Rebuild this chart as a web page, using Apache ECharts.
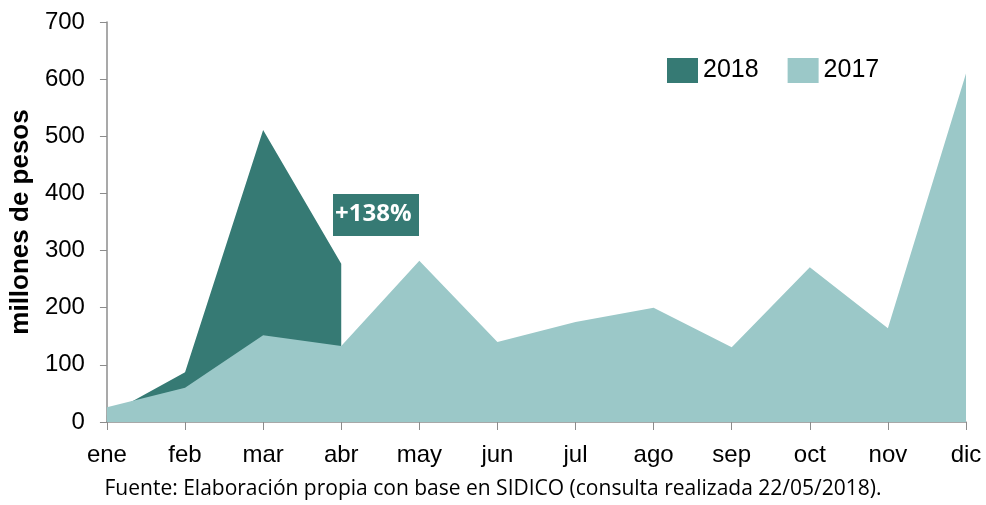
<!DOCTYPE html>
<html>
<head>
<meta charset="utf-8">
<script src="https://cdn.jsdelivr.net/npm/echarts@6/dist/echarts.min.js"></script>
<style>
	html, body {margin: 0; padding: 0; background: #fff;}
	#chart {width: 986px; height: 505px;}
</style>
</head>
<body>
<div id="chart"></div>
<script>
// 数据
var months = ['ene', 'feb', 'mar', 'abr', 'may', 'jun', 'jul', 'ago', 'sep', 'oct', 'nov', 'dic'];
var data2017 = [26, 60, 152, 133, 282, 140, 175, 200, 131, 271, 164, 610];
var data2018 = [12, 87, 511, 277, null, null, null, null, null, null, null, null];
var yTicks = [0, 100, 200, 300, 400, 500, 600, 700];

var darkColor = '#367a74';
var lightColor = '#9bc8c8';

var chart = echarts.init(document.getElementById('chart'));
var option = {
	animation: false,
	grid: {
		left: 106,
		right: 20,
		top: 22,
		bottom: 83
	},
	legend: {
		data: ['2018', '2017'],
		left: 662,
		top: 53,
		itemWidth: 31,
		itemHeight: 25,
		itemGap: 29,
		icon: 'rect',
		textStyle: {fontFamily: 'Liberation Sans', fontSize: 25, color: '#000'}
	},
	xAxis: {
		type: 'category',
		data: months,
		boundaryGap: false,
		axisLine: {lineStyle: {color: '#8c8c8c', width: 1.5}},
		axisTick: {show: true, length: 8, lineStyle: {color: '#8c8c8c'}},
		axisLabel: {fontFamily: 'Liberation Sans', fontSize: 24, color: '#000', margin: 21},
		splitLine: {show: false}
	},
	yAxis: {
		type: 'value',
		min: yTicks[0],
		max: yTicks[yTicks.length - 1],
		interval: 100,
		name: 'millones de pesos',
		nameLocation: 'middle',
		nameGap: 68,
		nameTextStyle: {fontFamily: 'Liberation Sans', fontSize: 26, fontWeight: 'bold', color: '#000'},
		axisLine: {show: true, lineStyle: {color: '#8c8c8c', width: 1.5}},
		axisTick: {show: true, length: 7, lineStyle: {color: '#8c8c8c'}},
		axisLabel: {fontFamily: 'Liberation Sans', fontSize: 24, color: '#000', margin: 22},
		splitLine: {show: false}
	},
	series: [
		{
			name: '2018',
			type: 'line',
			data: data2018,
			symbol: 'none',
			lineStyle: {width: 0},
			itemStyle: {color: darkColor},
			areaStyle: {color: darkColor, opacity: 1},
			z: 2
		},
		{
			name: '2017',
			type: 'line',
			data: data2017,
			symbol: 'none',
			lineStyle: {width: 0},
			itemStyle: {color: lightColor},
			areaStyle: {color: lightColor, opacity: 1},
			z: 3
		}
	],
	graphic: [
		{
			type: 'rect',
			left: 333,
			top: 194,
			shape: {width: 86, height: 42},
			style: {fill: darkColor},
			z: 10
		},
		{
			type: 'text',
			left: 335,
			top: 202,
			style: {text: '+138%', fill: '#fff', font: 'bold 24px "Open Sans", "DejaVu Sans", sans-serif'},
			z: 11
		},
		{
			type: 'text',
			left: 'center',
			top: 479,
			style: {text: 'Fuente: Elaboración propia con base en SIDICO (consulta realizada 22/05/2018).', fill: '#000', font: '21px "Open Sans", "Noto Sans", sans-serif'},
			z: 11
		}
	]
};
chart.setOption(option);
</script>
</body>
</html>
